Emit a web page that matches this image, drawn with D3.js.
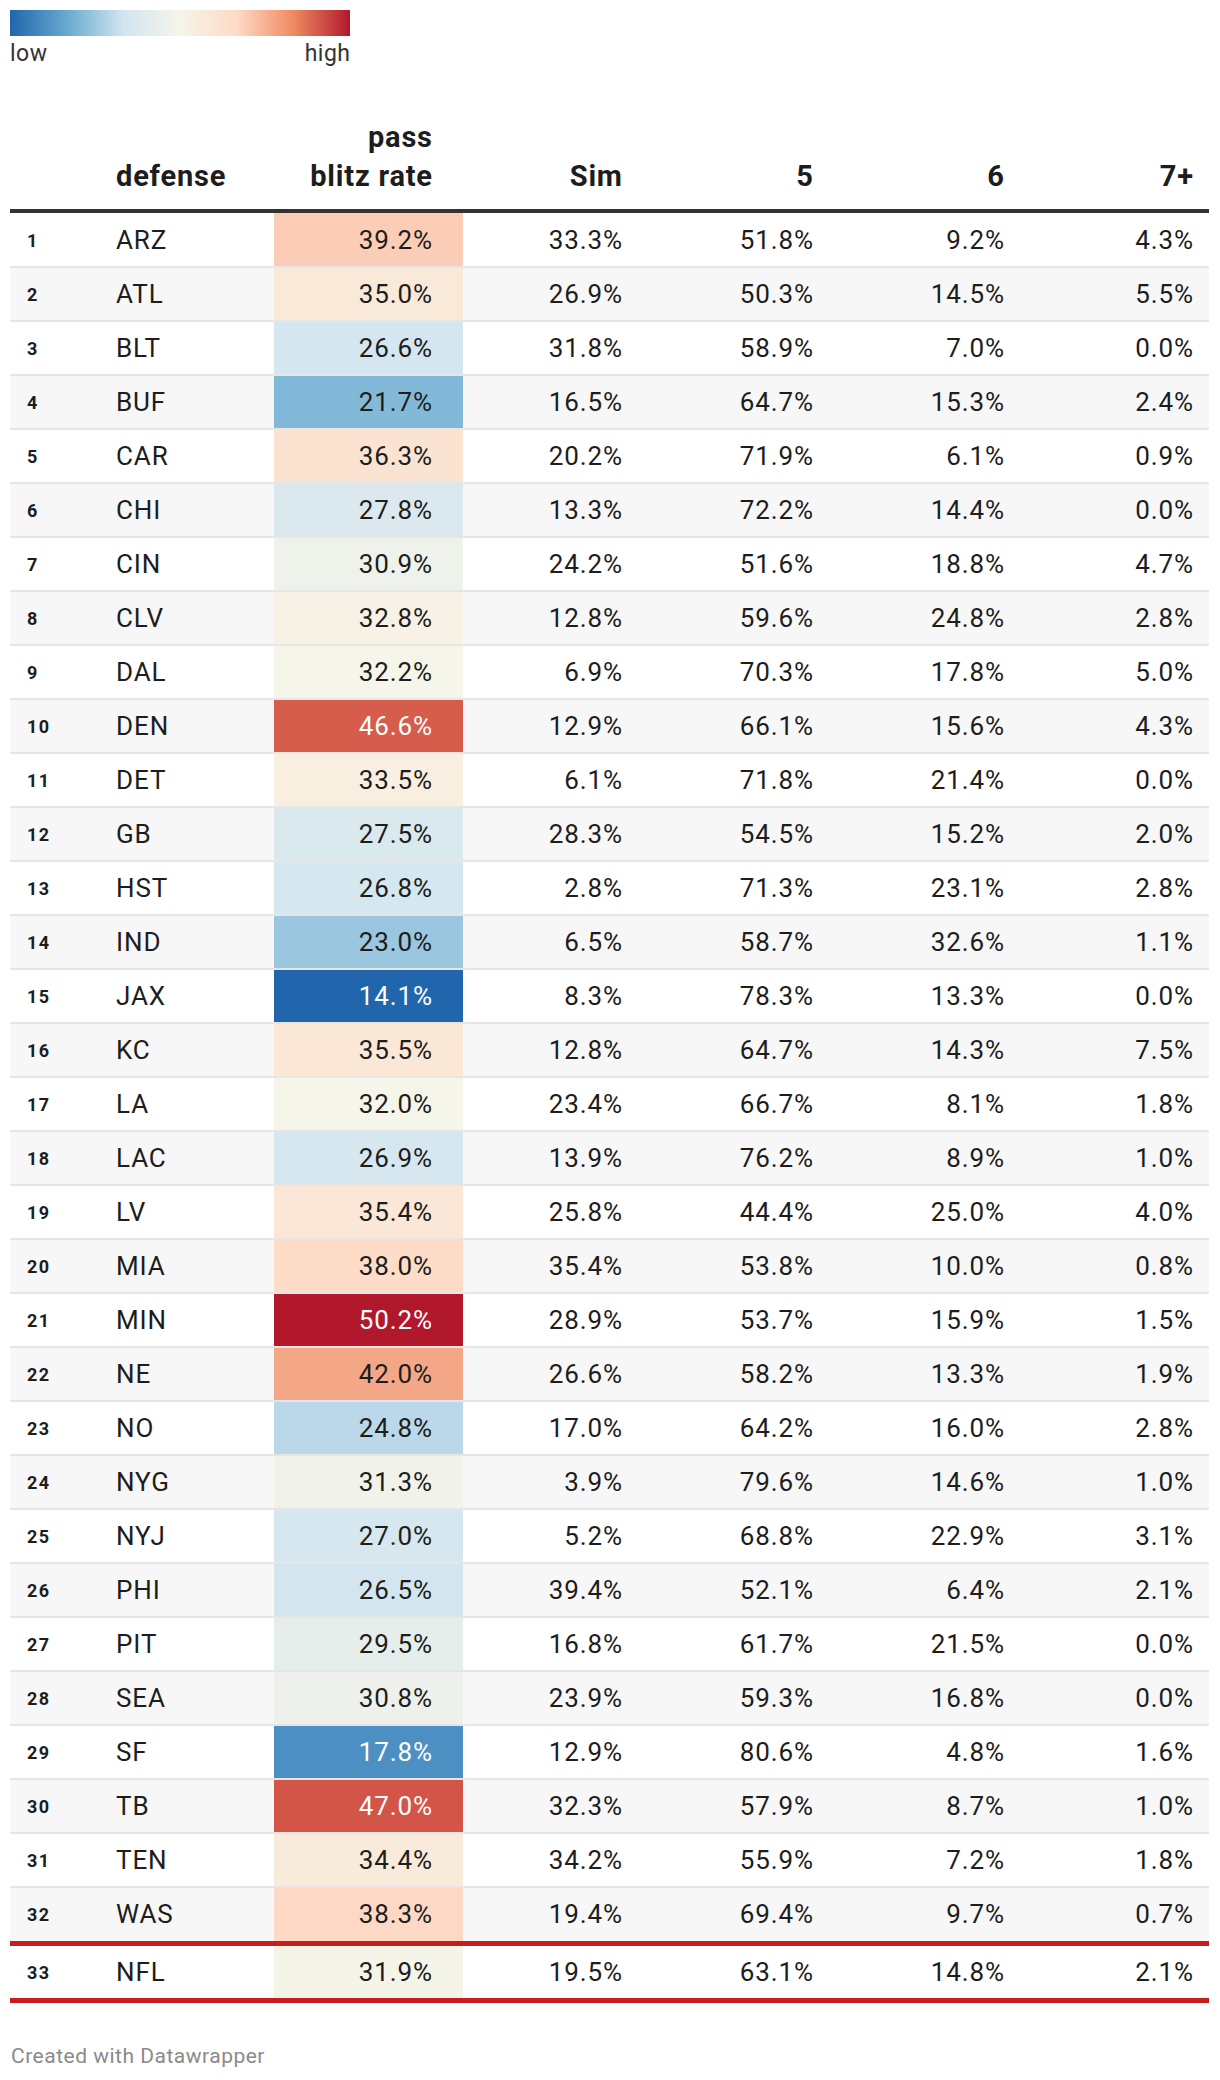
<!DOCTYPE html>
<html>
<head>
<meta charset="utf-8">
<script src="https://cdn.jsdelivr.net/npm/d3@7"></script>
<style>
  body { margin: 0; background: #fff; }
  svg text { font-family: Roboto, "Noto Sans", sans-serif; }
</style>
</head>
<body>
<script>
// table data, one array per column
var teams = ["ARZ","ATL","BLT","BUF","CAR","CHI","CIN","CLV","DAL","DEN","DET","GB","HST","IND","JAX","KC",
             "LA","LAC","LV","MIA","MIN","NE","NO","NYG","NYJ","PHI","PIT","SEA","SF","TB","TEN","WAS","NFL"];
var blitzRate = [39.2,35.0,26.6,21.7,36.3,27.8,30.9,32.8,32.2,46.6,33.5,27.5,26.8,23.0,14.1,35.5,
                 32.0,26.9,35.4,38.0,50.2,42.0,24.8,31.3,27.0,26.5,29.5,30.8,17.8,47.0,34.4,38.3,31.9];
var sim = [33.3,26.9,31.8,16.5,20.2,13.3,24.2,12.8,6.9,12.9,6.1,28.3,2.8,6.5,8.3,12.8,
           23.4,13.9,25.8,35.4,28.9,26.6,17.0,3.9,5.2,39.4,16.8,23.9,12.9,32.3,34.2,19.4,19.5];
var five = [51.8,50.3,58.9,64.7,71.9,72.2,51.6,59.6,70.3,66.1,71.8,54.5,71.3,58.7,78.3,64.7,
            66.7,76.2,44.4,53.8,53.7,58.2,64.2,79.6,68.8,52.1,61.7,59.3,80.6,57.9,55.9,69.4,63.1];
var six = [9.2,14.5,7.0,15.3,6.1,14.4,18.8,24.8,17.8,15.6,21.4,15.2,23.1,32.6,13.3,14.3,
           8.1,8.9,25.0,10.0,15.9,13.3,16.0,14.6,22.9,6.4,21.5,16.8,4.8,8.7,7.2,9.7,14.8];
var sevenPlus = [4.3,5.5,0.0,2.4,0.9,0.0,4.7,2.8,5.0,4.3,0.0,2.0,2.8,1.1,0.0,7.5,
                 1.8,1.0,4.0,0.8,1.5,1.9,2.8,1.0,3.1,2.1,0.0,0.0,1.6,1.0,1.8,0.7,2.1];
var headers = ["", "defense", "pass\nblitz rate", "Sim", "5", "6", "7+"];
var legendLabels = ["low", "high"];
var palette = ["#2166ac","#67a9cf","#d1e5f0","#f6f5e9","#fddbc7","#ef8a62","#b2182b"];

var width = 1220, height = 2080;
var fmt = d3.format(".1f");

var svg = d3.select("body").append("svg")
  .attr("width", width)
  .attr("height", height);

// colour scale for the blitz rate column
var vMin = d3.min(blitzRate), vMax = d3.max(blitzRate);
var color = d3.scaleLinear()
  .domain(palette.map(function(c, i) { return vMin + (vMax - vMin) * i / (palette.length - 1); }))
  .range(palette)
  .interpolate(d3.interpolateRgb)
  .clamp(true);

// legend
var defs = svg.append("defs");
var grad = defs.append("linearGradient").attr("id", "lg");
palette.forEach(function(c, i) {
  grad.append("stop").attr("offset", (i / (palette.length - 1) * 100) + "%").attr("stop-color", c);
});
svg.append("rect").attr("x", 10).attr("y", 10).attr("width", 340).attr("height", 26).attr("fill", "url(#lg)");
svg.append("text").attr("x", 10).attr("y", 61).attr("font-size", 23).attr("letter-spacing", 0.5)
  .attr("fill", "#333").text(legendLabels[0]);
svg.append("text").attr("x", 350.5).attr("y", 61).attr("text-anchor", "end").attr("font-size", 23).attr("letter-spacing", 0.5)
  .attr("fill", "#333").text(legendLabels[1]);

// column layout
var cols = [
  {x0: 10, x1: 100, align: "start", pad: 17},
  {x0: 100, x1: 274, align: "start", pad: 16},
  {x0: 274, x1: 463, align: "end", pad: 31},
  {x0: 463, x1: 653, align: "end", pad: 31},
  {x0: 653, x1: 844, align: "end", pad: 31},
  {x0: 844, x1: 1035, align: "end", pad: 31},
  {x0: 1035, x1: 1209, align: "end", pad: 16}
];
// letter-spacing trails the last glyph, so nudge end-anchored text right by it
function textX(c, ls) { return c.align === "start" ? c.x0 + c.pad : c.x1 - c.pad + (ls || 0); }

var tableLeft = 10, tableRight = 1209;
var headTop = 213;
var rowH = 54;
var dataLS = 0.9, headLS = 0.8;

// header
var head = svg.append("g");
headers.forEach(function(h, i) {
  var lines = h.split("\n");
  lines.forEach(function(l, j) {
    head.append("text")
      .attr("x", textX(cols[i], headLS))
      .attr("y", 186 - (lines.length - 1 - j) * 39)
      .attr("text-anchor", cols[i].align)
      .attr("font-size", 29)
      .attr("font-weight", 700)
      .attr("letter-spacing", headLS)
      .attr("fill", "#1d1d1d")
      .text(l);
  });
});
svg.append("rect").attr("x", tableLeft).attr("y", 209).attr("width", tableRight - tableLeft).attr("height", 4).attr("fill", "#333");

// row positions
var nTeams = teams.length - 1;
var y = d3.scaleBand()
  .domain(d3.range(nTeams))
  .range([headTop, headTop + nTeams * rowH])
  .padding(0);

var rows = teams.map(function(t, i) {
  return {rank: i + 1, team: t, vals: [blitzRate[i], sim[i], five[i], six[i], sevenPlus[i]]};
});

var redH = 5;
function rowTop(i) { return i < nTeams ? y(i) : headTop + nTeams * rowH + redH; }
function rowHeight(i) { return i < nTeams ? rowH : rowH - 2; }

var rowG = svg.append("g").selectAll("g")
  .data(rows)
  .enter().append("g")
  .attr("transform", function(d, i) { return "translate(0," + rowTop(i) + ")"; });

// stripes and separators
rowG.append("rect")
  .attr("x", tableLeft).attr("width", tableRight - tableLeft)
  .attr("height", function(d, i) { return rowHeight(i); })
  .attr("fill", function(d, i) { return (i < nTeams && i % 2 === 1) ? "#f7f7f7" : "#fff"; });
rowG.filter(function(d, i) { return i > 0 && i < nTeams; })
  .append("rect")
  .attr("x", tableLeft).attr("width", tableRight - tableLeft)
  .attr("y", -1).attr("height", 2)
  .attr("fill", "#e6e6e6");

// heatmap cell
rowG.append("rect")
  .attr("x", cols[2].x0).attr("width", cols[2].x1 - cols[2].x0)
  .attr("y", function(d, i) { return i > 0 && i < nTeams ? 1 : 0; })
  .attr("height", function(d, i) { return rowHeight(i) - (i > 0 && i < nTeams ? 1 : 0); })
  .attr("fill", function(d) { return color(d.vals[0]); });

// rank
rowG.append("text")
  .attr("x", textX(cols[0]))
  .attr("y", function(d, i) { return rowHeight(i) / 2 + 6.5; })
  .attr("font-size", 18)
  .attr("font-weight", 700)
  .attr("letter-spacing", 1.4)
  .attr("fill", "#1d1d1d")
  .text(function(d) { return d.rank; });

// team
rowG.append("text")
  .attr("x", textX(cols[1]))
  .attr("y", function(d, i) { return rowHeight(i) / 2 + 9; })
  .attr("font-size", 26)
  .attr("letter-spacing", dataLS)
  .attr("fill", "#1d1d1d")
  .text(function(d) { return d.team; });

// values
[0, 1, 2, 3, 4].forEach(function(k) {
  rowG.append("text")
    .attr("x", textX(cols[k + 2], dataLS))
    .attr("y", function(d, i) { return rowHeight(i) / 2 + 9; })
    .attr("text-anchor", "end")
    .attr("font-size", 26)
    .attr("letter-spacing", dataLS)
    .attr("fill", function(d) {
      if (k !== 0) return "#1d1d1d";
      var c = d3.lab(color(d.vals[0]));
      return c.l < 58 ? "#fff" : "#1d1d1d";
    })
    .text(function(d) { return fmt(d.vals[k]) + "%"; });
});

// red rules around the NFL row
var redY1 = headTop + nTeams * rowH;
svg.append("rect").attr("x", tableLeft).attr("y", redY1).attr("width", tableRight - tableLeft).attr("height", redH).attr("fill", "#c71e1d");
svg.append("rect").attr("x", tableLeft).attr("y", redY1 + redH + rowH - 2).attr("width", tableRight - tableLeft).attr("height", redH).attr("fill", "#c71e1d");

// footer
svg.append("text")
  .attr("x", 11).attr("y", 2063)
  .attr("font-size", 21)
  .attr("letter-spacing", 0.5)
  .attr("fill", "#8a8a8a")
  .text("Created with Datawrapper");
</script>
</body>
</html>
